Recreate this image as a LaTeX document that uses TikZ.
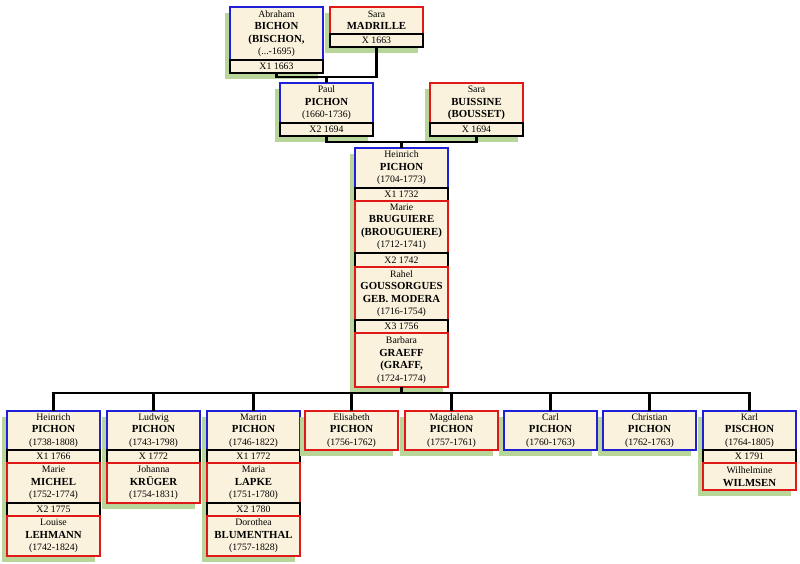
\documentclass[tikz,border=0pt]{standalone}
\usepackage{fontspec}
\setmainfont{Liberation Serif}
\usetikzlibrary{shadows}
\definecolor{cream}{HTML}{FAF2DC}
\definecolor{mblue}{HTML}{2020D8}
\definecolor{fred}{HTML}{E01818}
\definecolor{shad}{HTML}{B8D69A}
\newcommand{\sn}[1]{{\fontsize{10.8}{12.5}\selectfont\bfseries #1}}
\tikzset{
 box/.style={fill=cream, minimum width=93pt, inner sep=0pt, outer sep=0pt, align=center, anchor=north west,
   font=\fontsize{9.8}{12.5}\selectfont,
   drop shadow={shadow xshift=-5pt, shadow yshift=-6pt, fill=shad, opacity=1}},
 male/.style={box, draw=mblue, line width=2pt},
 female/.style={box, draw=fred, line width=2pt},
 marr/.style={box, draw=black, line width=1.8pt, minimum height=13pt},
 conn/.style={draw=black, line width=2.2pt},
}
\begin{document}
\begin{tikzpicture}[x=1pt,y=-1pt]
\fill[white] (0,0) rectangle (800,563);
\useasboundingbox (0,0) rectangle (800,563);
% generation 1
\node[male, minimum height=53pt] (abr) at (230,7) {Abraham\\\sn{BICHON}\\\sn{(BISCHON,}\\(...-1695)};
\node[marr] (abrm) at (abr.south west) {X1 1663};
\node[female, minimum height=27pt] (smad) at (330,7) {Sara\\\sn{MADRILLE}};
\node[marr] (smadm) at (smad.south west) {X 1663};
% generation 2
\node[male, minimum height=40pt] (paul) at (280,83) {Paul\\\sn{PICHON}\\(1660-1736)};
\node[marr] (paulm) at (paul.south west) {X2 1694};
\node[female, minimum height=40pt] (sbui) at (430,83) {Sara\\\sn{BUISSINE}\\\sn{(BOUSSET)}};
\node[marr] (sbuim) at (sbui.south west) {X 1694};
% generation 3
\node[male, minimum height=40pt] (hein) at (355,148) {Heinrich\\\sn{PICHON}\\(1704-1773)};
\node[marr] (heinm1) at (hein.south west) {X1 1732};
\node[female, minimum height=52pt] (marie) at (heinm1.south west) {Marie\\\sn{BRUGUIERE}\\\sn{(BROUGUIERE)}\\(1712-1741)};
\node[marr, minimum height=14pt] (heinm2) at (marie.south west) {X2 1742};
\node[female, minimum height=53pt] (rahel) at (heinm2.south west) {Rahel\\\sn{GOUSSORGUES}\\\sn{GEB. MODERA}\\(1716-1754)};
\node[marr] (heinm3) at (rahel.south west) {X3 1756};
\node[female, minimum height=54pt] (barb) at (heinm3.south west) {Barbara\\\sn{GRAEFF}\\\sn{(GRAFF,}\\(1724-1774)};
% generation 4
\node[male, minimum height=39pt] (c1) at (7,411) {Heinrich\\\sn{PICHON}\\(1738-1808)};
\node[marr] (c1m1) at (c1.south west) {X1 1766};
\node[female, minimum height=40pt] (c1w1) at (c1m1.south west) {Marie\\\sn{MICHEL}\\(1752-1774)};
\node[marr] (c1m2) at (c1w1.south west) {X2 1775};
\node[female, minimum height=40pt] (c1w2) at (c1m2.south west) {Louise\\\sn{LEHMANN}\\(1742-1824)};

\node[male, minimum height=39pt] (c2) at (107,411) {Ludwig\\\sn{PICHON}\\(1743-1798)};
\node[marr] (c2m1) at (c2.south west) {X 1772};
\node[female, minimum height=40pt] (c2w1) at (c2m1.south west) {Johanna\\\sn{KRÜGER}\\(1754-1831)};

\node[male, minimum height=39pt] (c3) at (207,411) {Martin\\\sn{PICHON}\\(1746-1822)};
\node[marr] (c3m1) at (c3.south west) {X1 1772};
\node[female, minimum height=40pt] (c3w1) at (c3m1.south west) {Maria\\\sn{LAPKE}\\(1751-1780)};
\node[marr] (c3m2) at (c3w1.south west) {X2 1780};
\node[female, minimum height=40pt] (c3w2) at (c3m2.south west) {Dorothea\\\sn{BLUMENTHAL}\\(1757-1828)};

\node[female, minimum height=39pt] (c4) at (305,411) {Elisabeth\\\sn{PICHON}\\(1756-1762)};
\node[female, minimum height=39pt] (c5) at (405,411) {Magdalena\\\sn{PICHON}\\(1757-1761)};
\node[male, minimum height=39pt] (c6) at (504,411) {Carl\\\sn{PICHON}\\(1760-1763)};
\node[male, minimum height=39pt] (c7) at (603,411) {Christian\\\sn{PICHON}\\(1762-1763)};

\node[male, minimum height=39pt] (c8) at (703,411) {Karl\\\sn{PISCHON}\\(1764-1805)};
\node[marr] (c8m1) at (c8.south west) {X 1791};
\node[female, minimum height=27pt] (c8w1) at (c8m1.south west) {Wilhelmine\\\sn{WILMSEN}};
% connectors
\coordinate (t1) at (paul.north |- 0,77);
\draw[conn] (abrm.south) |- (t1) -| (smadm.south);
\draw[conn] (t1) -- (paul.north);
\coordinate (t2) at (hein.north |- 0,142);
\draw[conn] (paulm.south) |- (t2) -| (sbuim.south);
\draw[conn] (t2) -- (hein.north);
\coordinate (t3) at (barb.south |- 0,393);
\draw[conn] (barb.south) -- (t3);
\draw[conn] (c1.north) |- (t3) -| (c8.north);
\foreach \c in {c2,c3,c4,c5,c6,c7} \draw[conn] (\c.north) -- (\c.north |- t3);
\end{tikzpicture}
\end{document}
